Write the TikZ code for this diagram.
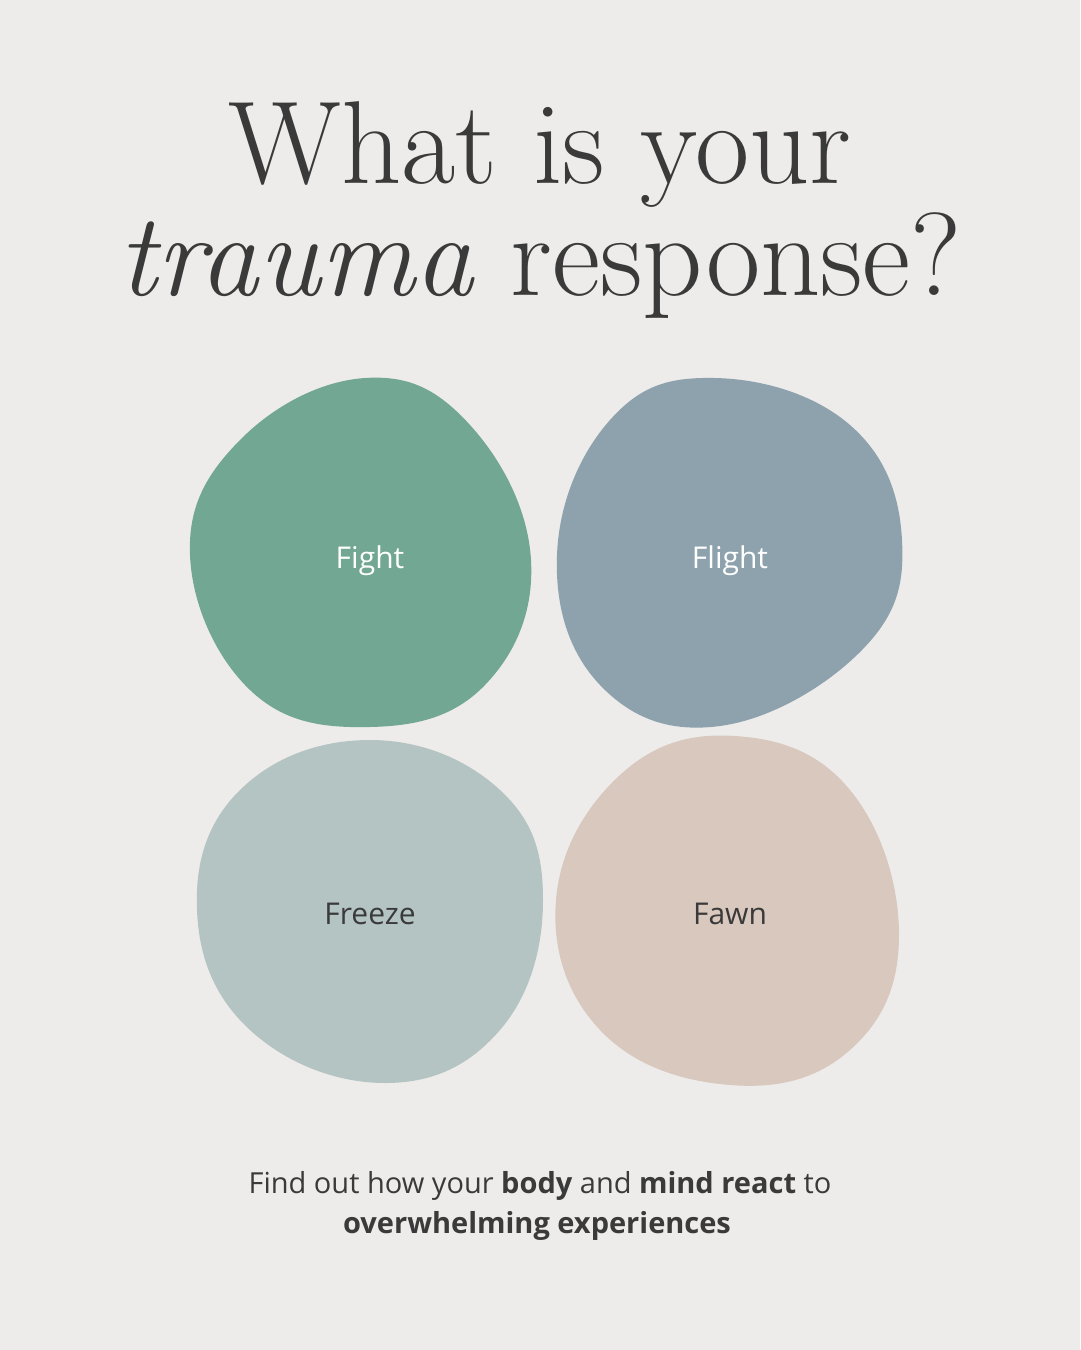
\documentclass[tikz,border=0pt]{standalone}
\usepackage{fontspec}
\setsansfont{Open Sans}
\begin{document}
\begin{tikzpicture}[x=1pt,y=-1pt,
  title/.style={font=\fontsize{118}{118}\selectfont, text=txt, anchor=base},
  lbl/.style={font=\sffamily\fontsize{30}{30}\selectfont, anchor=base},
  foot/.style={font=\sffamily\fontsize{29}{29}\selectfont, text=txt, anchor=base}]
\definecolor{bg}{HTML}{EDECEA}
\definecolor{txt}{HTML}{3A3A3A}
\definecolor{cfight}{HTML}{72A793}
\definecolor{cflight}{HTML}{8DA2AD}
\definecolor{cfreeze}{HTML}{B4C4C3}
\definecolor{cfawn}{HTML}{D9C8BE}
\fill[bg] (0,0) rectangle (1080,1350);
\useasboundingbox (0,0) rectangle (1080,1350);
\node[title] (t1) at (540,183) {What is your};
\node[title] (t2) at (540,295) {\textit{trauma} response?};
\fill[cfight] plot[smooth cycle,tension=0.7] coordinates {(365,378) (470,425) (531,560) (485,685) (370,727) (250,690) (190,555) (240,440)};
\fill[cflight] plot[smooth cycle,tension=0.7] coordinates {(715,378) (850,425) (902,540) (862,650) (720,726) (600,685) (557,555) (610,420)};
\fill[cfreeze] plot[smooth cycle,tension=0.7] coordinates {(370,740) (500,790) (543,900) (500,1030) (385,1083) (250,1030) (197,910) (240,790)};
\fill[cfawn] plot[smooth cycle,tension=0.7] coordinates {(735,736) (850,790) (899,935) (850,1050) (730,1085) (600,1030) (556,900) (620,775)};
\node[lbl,text=white] (fight) at (370,568) {Fight};
\node[lbl,text=white] (flight) at (730,568) {Flight};
\node[lbl,text=txt] (freeze) at (370,924) {Freeze};
\node[lbl,text=txt] (fawn) at (730,924) {Fawn};
\node[foot] (f1) at (540,1193) {Find out how your \textbf{body} and \textbf{mind react} to};
\node[foot] (f2) at (537,1233) {\textbf{overwhelming experiences}};
\end{tikzpicture}
\end{document}
